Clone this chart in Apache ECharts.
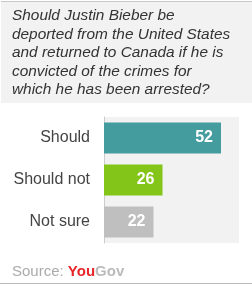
<!DOCTYPE html>
<html>
<head>
<meta charset="utf-8">
<script src="https://cdn.jsdelivr.net/npm/echarts@6/dist/echarts.min.js"></script>
<style>
  html, body { margin: 0; padding: 0; background: #fff; }
  #main { width: 252px; height: 288px; }
</style>
</head>
<body>
<div id="main"></div>
<script>
const question = 'Should Justin Bieber be\ndeported from the United States\nand returned to Canada if he is\nconvicted of the crimes for\nwhich he has been arrested?'
const categories = ['Should', 'Should not', 'Not sure']
const values = [52, 26, 22]
const barColors = ['#459c9e', '#84c51a', '#bfbfbf'] // 每个柱子的颜色

const chart = echarts.init(document.getElementById('main'))
chart.setOption({
  animation: false,
  grid: {
    left: 104,
    top: 117,
    width: 135,
    height: 126,
    show: true,
    backgroundColor: '#f2f2f2',
    borderWidth: 0
  },
  xAxis: {
    type: 'value',
    min: 0,
    max: 60,
    show: false
  },
  yAxis: {
    type: 'category',
    data: categories,
    inverse: true,
    axisLine: { show: true, lineStyle: { color: '#cccccc', width: 1 } },
    axisTick: { show: false },
    axisLabel: {
      margin: 14,
      color: '#444444',
      fontSize: 16,
      fontFamily: 'Liberation Sans'
    }
  },
  series: [{
    type: 'bar',
    barWidth: 31,
    data: values.map((v, i) => ({ value: v, itemStyle: { color: barColors[i] } })),
    label: {
      show: true,
      position: 'insideRight',
      distance: 8,
      color: '#ffffff',
      fontSize: 16,
      fontWeight: 'bold',
      fontFamily: 'Liberation Sans'
    }
  }],
  graphic: [
    {
      type: 'rect',
      shape: { x: 1, y: 2, width: 251, height: 101 },
      style: { fill: '#f2f2f2' },
      z: -1
    },
    {
      type: 'line',
      shape: { x1: 1, y1: 1.5, x2: 252, y2: 1.5 },
      style: { stroke: '#c8c8c8', lineWidth: 1 }
    },
    {
      type: 'text',
      x: 12,
      y: 7,
      style: {
        text: question,
        font: 'italic 15.4px "Liberation Sans"',
        fill: '#333333',
        lineHeight: 18.4,
        verticalAlign: 'top'
      }
    },
    {
      type: 'text',
      x: 12,
      y: 272,
      style: {
        text: '{s|Source: }{r|You}{g|Gov}',
        verticalAlign: 'middle',
        rich: {
          s: { fontSize: 15, fontFamily: 'Liberation Sans', fill: '#aaaaaa' },
          r: { fontSize: 15, fontFamily: 'Liberation Sans', fontWeight: 'bold', fill: '#e8262a' },
          g: { fontSize: 15, fontFamily: 'Liberation Sans', fontWeight: 'bold', fill: '#bbbbbb' }
        }
      }
    },
    {
      type: 'line',
      shape: { x1: 0, y1: 283.5, x2: 252, y2: 283.5 },
      style: { stroke: '#bbbbbb', lineWidth: 1 }
    }
  ]
})
</script>
</body>
</html>
